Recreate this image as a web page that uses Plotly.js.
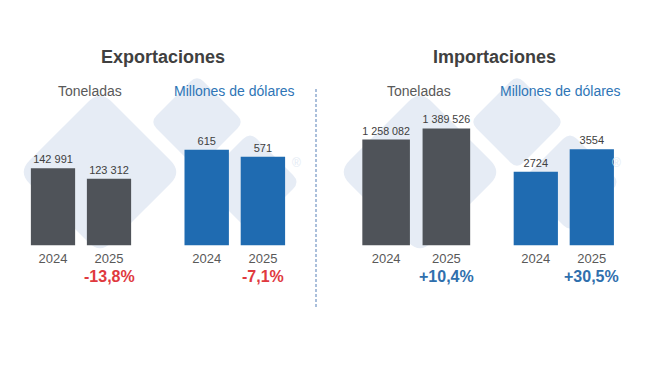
<!DOCTYPE html>
<html>
<head>
<meta charset="utf-8">
<script src="https://cdn.plot.ly/plotly-3.0.1.min.js"></script>
<style>html,body{margin:0;padding:0;background:#fff;}#chart{width:650px;height:366px;}</style>
</head>
<body>
<div id="chart"></div>
<script>
// ---- data ----
const years = ['2024', '2025'];
const expTons = [142991, 123312];
const expUsd = [615, 571];
const impTons = [1258082, 1389526];
const impUsd = [2724, 3554];
const expTonsChange = '-13,8%';
const expUsdChange = '-7,1%';
const impTonsChange = '+10,4%';
const impUsdChange = '+30,5%';
const unitTons = 'Toneladas';
const unitUsd = 'Millones de dólares';
const titleExp = 'Exportaciones';
const titleImp = 'Importaciones';

// ---- styling ----
const W = 650, H = 366;
const FONT = 'Liberation Sans, Arial, sans-serif';
const GRAY_BAR = '#4f5359';
const BLUE_BAR = '#1f6bb1';
const RED = '#e0393e';
const BLUE_TXT = '#2f6fad';
const TXT = '#404040';
const px = x => x / W;
const py = y => 1 - y / H;

function fmtSpace(v) {
  return String(v).replace(/\B(?=(\d{3})+(?!\d))/g, ' ');
}

const yDom = [py(245.5), py(100)];
const panels = [
  {vals: expTons, color: GRAY_BAR, dom: [px(25), px(137)], range: 269150, fmt: fmtSpace},
  {vals: expUsd, color: BLUE_BAR, dom: [px(178.6), px(291)], range: 935, fmt: String},
  {vals: impTons, color: GRAY_BAR, dom: [px(356), px(476.5)], range: 1726900, fmt: fmtSpace},
  {vals: impUsd, color: BLUE_BAR, dom: [px(507.8), px(619.8)], range: 5373, fmt: String}
];

const data = [];
const layout = {
  width: W, height: H,
  margin: {l: 0, r: 0, t: 0, b: 0},
  paper_bgcolor: '#ffffff', plot_bgcolor: 'rgba(0,0,0,0)',
  showlegend: false,
  bargap: 0.21,
  font: {family: FONT},
  annotations: [], shapes: []
};

panels.forEach((p, i) => {
  const n = i === 0 ? '' : String(i + 1);
  data.push({
    type: 'bar', x: years, y: p.vals,
    xaxis: 'x' + n, yaxis: 'y' + n,
    marker: {color: p.color},
    text: p.vals.map(p.fmt), textposition: 'outside',
    textfont: {family: FONT, size: 11, color: TXT},
    cliponaxis: false, hoverinfo: 'skip'
  });
  layout['xaxis' + n] = {
    domain: p.dom, anchor: 'y' + n, type: 'category', range: [-0.5, 1.5],
    showgrid: false, zeroline: false, showline: false, ticks: '',
    ticklabelstandoff: 3,
    tickfont: {family: FONT, size: 13, color: '#595959'}, fixedrange: true
  };
  layout['yaxis' + n] = {
    domain: yDom, anchor: 'x' + n, range: [0, p.range], visible: false, fixedrange: true
  };
});

// ---- titles and labels ----
function ann(text, x, y, size, color, bold) {
  layout.annotations.push({
    text: bold ? '<b>' + text + '</b>' : text,
    xref: 'paper', yref: 'paper', x: px(x), y: py(y),
    xanchor: 'center', yanchor: 'middle', showarrow: false,
    font: {family: FONT, size: size, color: color}
  });
}
ann(titleExp, 163, 57, 18, TXT, true);
ann(titleImp, 494.5, 57, 18, TXT, true);
ann(unitTons, 89.5, 91, 14, '#595959', false);
ann(unitUsd, 234.5, 91, 14, '#2e75b6', false);
ann(unitTons, 418.5, 91, 14, '#595959', false);
ann(unitUsd, 560, 91, 14, '#2e75b6', false);

const changes = [expTonsChange, expUsdChange, impTonsChange, impUsdChange];
const changeColors = [RED, RED, BLUE_TXT, BLUE_TXT];
changes.forEach((c, i) => {
  const n = i === 0 ? '' : String(i + 1);
  layout.annotations.push({
    text: '<b>' + c + '</b>', xref: 'x' + n, yref: 'paper', x: 1, y: py(276),
    xanchor: 'center', yanchor: 'middle', showarrow: false,
    font: {family: FONT, size: 16, color: changeColors[i]}
  });
});

// ---- watermark (logo diamonds) ----
function diamondPath(cx, cy, r, t) {
  const v = [[cx, cy - r], [cx + r, cy], [cx, cy + r], [cx - r, cy]];
  let d = '';
  for (let i = 0; i < 4; i++) {
    const V = v[i], P = v[(i + 3) % 4], N = v[(i + 1) % 4];
    const A = [V[0] + (P[0] - V[0]) * t, V[1] + (P[1] - V[1]) * t];
    const B = [V[0] + (N[0] - V[0]) * t, V[1] + (N[1] - V[1]) * t];
    d += (i === 0 ? 'M' : 'L') + px(A[0]) + ',' + py(A[1]) +
         ' Q' + px(V[0]) + ',' + py(V[1]) + ' ' + px(B[0]) + ',' + py(B[1]) + ' ';
  }
  return d + 'Z';
}
[0, 320].forEach(off => {
  const ds = [[100 + off, 172, 82], [197 + off, 122, 47], [250 + off, 182, 50]];
  ds.forEach(d => {
    layout.shapes.push({
      type: 'path', xref: 'paper', yref: 'paper', layer: 'below',
      path: diamondPath(d[0], d[1], d[2], 0.14),
      fillcolor: '#e6ecf5', line: {width: 0}
    });
  });
  layout.annotations.push({
    text: '®', xref: 'paper', yref: 'paper', x: px(296 + off), y: py(163),
    xanchor: 'center', yanchor: 'middle', showarrow: false,
    font: {family: FONT, size: 12, color: '#e4ebf4'}
  });
});

// ---- divider ----
layout.shapes.push({
  type: 'line', xref: 'paper', yref: 'paper',
  x0: px(316), x1: px(316), y0: py(89), y1: py(307),
  line: {color: '#8fabd0', width: 1.5, dash: '3px,2px'}
});

Plotly.newPlot('chart', data, layout, {displayModeBar: false, staticPlot: true});
</script>
</body>
</html>
